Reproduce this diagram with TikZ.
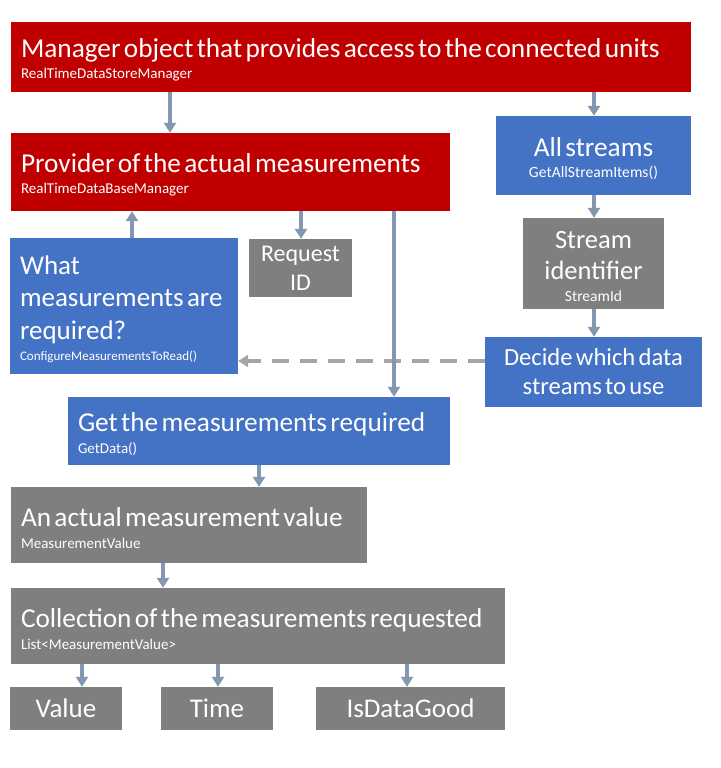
\documentclass[tikz,border=0pt]{standalone}
\usepackage{fontspec}
\setmainfont{Carlito}
\usetikzlibrary{arrows.meta}
\definecolor{cred}{HTML}{C00000}
\definecolor{cblue}{HTML}{4472C4}
\definecolor{cgray}{HTML}{7F7F7F}
\definecolor{carrow}{HTML}{8497B0}
\definecolor{cdash}{HTML}{A5A5A5}
\newcommand\mytitle[1]{{\fontsize{27.3}{32.5}\selectfont #1\par}}
\newcommand\mysub[2][15]{{\fontsize{#1}{21.5}\selectfont #2\par}\vspace{-6pt}}
\begin{document}
\begin{tikzpicture}[x=1pt,y=-1pt,
  bx/.style={fill=#1, draw=none, text=white, inner xsep=10pt, inner ysep=0pt, align=left},
  bxc/.style={bx=#1, align=center},
  arr/.style={draw=carrow, line width=4pt, -{Triangle[width=12pt,length=10pt]}},
  darr/.style={draw=cdash, line width=4pt, dash pattern=on 17pt off 11pt, -{Triangle[width=12pt,length=10pt]}}]
\useasboundingbox (0,0) rectangle (720,768);

\node[bx=cred, minimum width=680pt, minimum height=70pt, text width=660pt] (top) at (351,57)
  {\mytitle{Manager object that provides access to the connected units}\mysub{RealTimeDataStoreManager}};
\node[bx=cred, minimum width=439pt, minimum height=78pt, text width=419pt] (prov) at (230.5,172)
  {\mytitle{Provider of the actual measurements}\mysub{RealTimeDataBaseManager}};
\node[bxc=cblue, minimum width=195pt, minimum height=79pt, text width=175pt] (all) at (593.5,155.5)
  {\mytitle{All streams}\mysub[15.6]{GetAllStreamItems()}};
\node[bxc=cgray, minimum width=141pt, minimum height=91pt, text width=121pt] (sid) at (593.5,263.5)
  {{\fontsize{26.5}{31}\selectfont Stream\\identifier\par}\mysub[15.5]{StreamId}};
\node[bxc=cblue, minimum width=217pt, minimum height=70pt, text width=197pt] (dec) at (593.5,372)
  {\fontsize{24.6}{29}\selectfont Decide which data\\streams to use\par};
\node[bx=cblue, minimum width=228pt, minimum height=136pt, text width=208pt] (what) at (124,306)
  {{\fontsize{27}{32.5}\selectfont What\\measurements are\\required?\par}\mysub[13]{ConfigureMeasurementsToRead()}};
\node[bxc=cgray, minimum width=103pt, minimum height=58pt, text width=83pt] (req) at (300.5,268)
  {\fontsize{24}{29}\selectfont Request\\ID\par};
\node[bx=cblue, minimum width=382pt, minimum height=68pt, text width=362pt] (get) at (259,431)
  {\mytitle{Get the measurements required}\mysub{GetData()}};
\node[bx=cgray, minimum width=356pt, minimum height=76pt, text width=336pt] (act) at (189,525)
  {\mytitle{An actual measurement value}\mysub{MeasurementValue}};
\node[bx=cgray, minimum width=494pt, minimum height=76pt, text width=474pt] (coll) at (258,626)
  {\mytitle{Collection of the measurements requested}\mysub{List<MeasurementValue>}};
\node[bxc=cgray, minimum width=112pt, minimum height=43pt, text width=92pt] (val) at (66,708.5)
  {\fontsize{27}{29}\selectfont Value\par};
\node[bxc=cgray, minimum width=112pt, minimum height=43pt, text width=92pt] (time) at (217,708.5)
  {\fontsize{27}{29}\selectfont Time\par};
\node[bxc=cgray, minimum width=189pt, minimum height=43pt, text width=169pt] (good) at (410.5,708.5)
  {\fontsize{27}{29}\selectfont IsDataGood\par};

\draw[arr] (top.south -| 170,0) -- (prov.north -| 170,0);
\draw[arr] (top.south -| 594,0) -- (all.north -| 594,0);
\draw[arr] (all.south -| 594,0) -- (sid.north -| 594,0);
\draw[arr] (sid.south -| 594,0) -- (dec.north -| 594,0);
\draw[darr] (dec.west |- 0,361) -- (what.east |- 0,361);
\draw[arr] (what.north -| 132,0) -- (prov.south -| 132,0);
\draw[arr] (prov.south -| 301,0) -- (req.north -| 301,0);
\draw[arr] (prov.south -| 394,0) -- (get.north -| 394,0);
\draw[arr] (get.south -| 259,0) -- (act.north -| 259,0);
\draw[arr] (act.south -| 163,0) -- (coll.north -| 163,0);
\draw[arr] (coll.south -| 82,0) -- (val.north -| 82,0);
\draw[arr] (coll.south -| 218,0) -- (time.north -| 218,0);
\draw[arr] (coll.south -| 407,0) -- (good.north -| 407,0);
\end{tikzpicture}
\end{document}
